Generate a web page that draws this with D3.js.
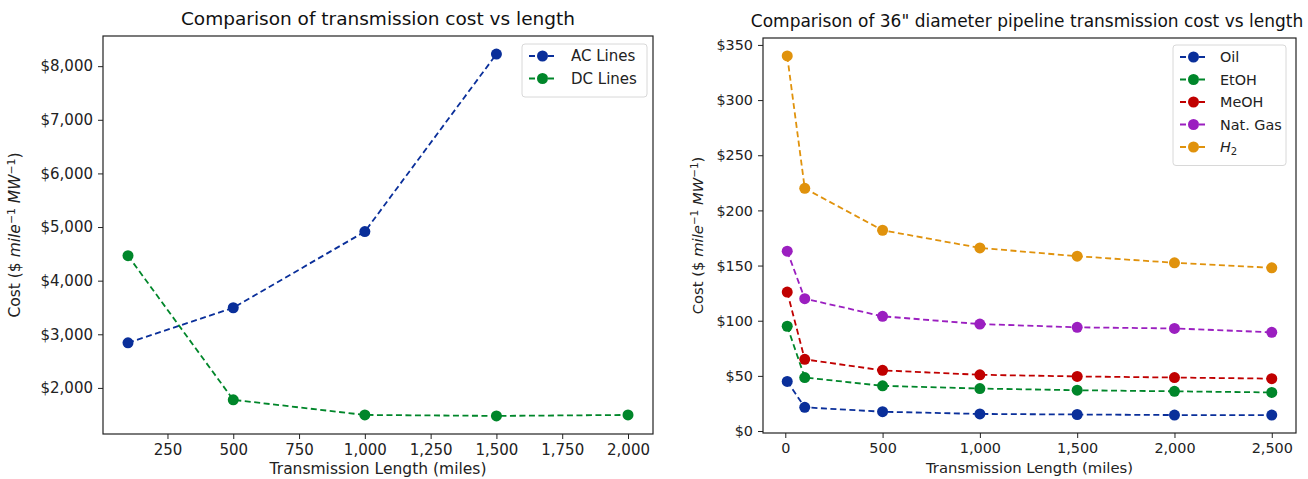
<!DOCTYPE html>
<html>
<head>
<meta charset="utf-8">
<script src="https://cdn.jsdelivr.net/npm/d3@7"></script>
<style>
  body { margin: 0; background: #fff; }
  svg { display: block; font-family: "DejaVu Sans", sans-serif; }
</style>
</head>
<body>
<div id="vis"></div>
<script>
// Dados
const acLength = [100, 500, 1000, 1500];
const acCost = [2840, 3495, 4915, 8225];
const dcLength = [100, 500, 1000, 1500, 2000];
const dcCost = [4465, 1778, 1496, 1478, 1496];
const leftXTicks = [250, 500, 750, 1000, 1250, 1500, 1750, 2000];
const leftYTicks = [2000, 3000, 4000, 5000, 6000, 7000, 8000];

const pipeLength = [10, 100, 500, 1000, 1500, 2000, 2500];
const oilCost = [45, 21.5, 17.5, 15.5, 15, 14.5, 14.5];
const etohCost = [95, 48.5, 41, 38.5, 37, 36, 35];
const meohCost = [126, 65, 55, 51, 49.5, 48.5, 47.5];
const gasCost = [163, 120, 104, 97, 94, 93, 89.5];
const h2Cost = [340, 220, 182, 166, 158.5, 152.5, 148];
const rightXTicks = [0, 500, 1000, 1500, 2000, 2500];
const rightYTicks = [0, 50, 100, 150, 200, 250, 300, 350];

// Cores
const cBlue = "#0a2f9a", cGreen = "#00862a", cRed = "#c00000", cPurple = "#9b1fc0", cOrange = "#e0920c";

const W = 1308, H = 479;
const svg = d3.select("#vis").append("svg").attr("width", W).attr("height", H);

const fmtComma = d3.format(",");

// Margens automáticas estilo matplotlib (5%)
function padDomain(vals) {
  const [a, b] = d3.extent(vals);
  const m = (b - a) * 0.05;
  return [a - m, b + m];
}

function drawPanel(opt) {
  const fs = opt.fonts;
  const g = svg.append("g");
  const x = d3.scaleLinear().domain(padDomain(opt.allX)).range([opt.left, opt.right]);
  const y = d3.scaleLinear().domain(padDomain(opt.allY)).range([opt.bottom, opt.top]);

  // Eixos
  const xAxis = d3.axisBottom(x).tickValues(opt.xTicks).tickFormat(fmtComma).tickSizeOuter(0).tickSize(5).tickPadding(5);
  const yAxis = d3.axisLeft(y).tickValues(opt.yTicks).tickFormat(d => "$" + fmtComma(d)).tickSizeOuter(0).tickSize(5).tickPadding(5);

  const gx = g.append("g").attr("transform", `translate(0,${opt.bottom})`).call(xAxis);
  const gy = g.append("g").attr("transform", `translate(${opt.left},0)`).call(yAxis);
  [gx, gy].forEach(a => {
    a.select(".domain").remove();
    a.selectAll("text").attr("font-size", fs.tick).attr("fill", "#222").attr("font-family", "DejaVu Sans");
    a.selectAll("line").attr("stroke", "#222").attr("stroke-width", 1);
  });

  // Moldura
  g.append("rect")
    .attr("x", opt.left).attr("y", opt.top)
    .attr("width", opt.right - opt.left).attr("height", opt.bottom - opt.top)
    .attr("fill", "none").attr("stroke", "#222").attr("stroke-width", 1.2);

  // Séries
  const line = d3.line().x(d => x(d[0])).y(d => y(d[1]));
  opt.series.forEach(s => {
    const pts = s.xs.map((v, i) => [v, s.ys[i]]);
    g.append("path").datum(pts)
      .attr("d", line).attr("fill", "none")
      .attr("stroke", s.color).attr("stroke-width", 1.8)
      .attr("stroke-dasharray", "6,3.5");
    g.selectAll(null).data(pts).enter().append("circle")
      .attr("cx", d => x(d[0])).attr("cy", d => y(d[1])).attr("r", 5.5)
      .attr("fill", s.color);
  });

  // Título
  g.append("text")
    .attr("x", opt.titleX).attr("y", opt.top - 11)
    .attr("text-anchor", "middle").attr("font-size", fs.title).attr("fill", "#111")
    .text(opt.title);

  // Rótulo X
  g.append("text")
    .attr("x", (opt.left + opt.right) / 2).attr("y", opt.bottom + 40)
    .attr("text-anchor", "middle").attr("font-size", fs.label).attr("fill", "#222")
    .text("Transmission Length (miles)");

  // Rótulo Y
  const sup = fs.label * 0.7;
  const yl = g.append("text")
    .attr("transform", `translate(${opt.yLabelX},${(opt.top + opt.bottom) / 2}) rotate(-90)`)
    .attr("text-anchor", "middle").attr("font-size", fs.label).attr("fill", "#222");
  yl.append("tspan").text("Cost ($ ");
  yl.append("tspan").attr("font-style", "italic").text("mile");
  yl.append("tspan").attr("font-size", sup).attr("dy", -5).text("\u22121");
  yl.append("tspan").attr("dy", 5).text(" ");
  yl.append("tspan").attr("font-style", "italic").text("MW");
  yl.append("tspan").attr("font-size", sup).attr("dy", -5).text("\u22121");
  yl.append("tspan").attr("dy", 5).text(")");

  // Legenda
  const lg = g.append("g");
  lg.append("rect")
    .attr("x", opt.legend.x).attr("y", opt.legend.y)
    .attr("width", opt.legend.w).attr("height", opt.series.length * 22.5 + 8)
    .attr("rx", 3).attr("fill", "#fff").attr("fill-opacity", 0.8)
    .attr("stroke", "#d8d8d8");
  opt.series.forEach((s, i) => {
    const cy = opt.legend.y + 12 + i * 22.5;
    const lx = opt.legend.x + 7;
    lg.append("line")
      .attr("x1", lx).attr("x2", lx + 27).attr("y1", cy).attr("y2", cy)
      .attr("stroke", s.color).attr("stroke-width", 1.8).attr("stroke-dasharray", "6,3.5");
    lg.append("circle").attr("cx", lx + 13.5).attr("cy", cy).attr("r", 5.5).attr("fill", s.color);
    const t = lg.append("text")
      .attr("x", lx + opt.legend.tx).attr("y", cy + 5)
      .attr("font-size", fs.tick).attr("fill", "#222");
    if (s.name === "H2") {
      t.append("tspan").attr("font-style", "italic").text("H");
      t.append("tspan").attr("font-size", fs.tick * 0.7).attr("dy", 3).text("2");
    } else {
      t.text(s.name);
    }
  });
}

drawPanel({
  left: 103, right: 653, top: 36, bottom: 434,
  allX: acLength.concat(dcLength), allY: acCost.concat(dcCost),
  xTicks: leftXTicks, yTicks: leftYTicks,
  fonts: { tick: 15, label: 15.5, title: 18.5 },
  title: "Comparison of transmission cost vs length", titleX: 378,
  yLabelX: 20,
  legend: { x: 522, y: 44, w: 125, tx: 42 },
  series: [
    { name: "AC Lines", xs: acLength, ys: acCost, color: cBlue },
    { name: "DC Lines", xs: dcLength, ys: dcCost, color: cGreen }
  ]
});

drawPanel({
  left: 763, right: 1296, top: 38, bottom: 433,
  allX: pipeLength, allY: oilCost.concat(etohCost, meohCost, gasCost, h2Cost),
  xTicks: rightXTicks, yTicks: rightYTicks,
  fonts: { tick: 14.4, label: 14.8, title: 17 },
  title: "Comparison of 36\" diameter pipeline transmission cost vs length", titleX: 1027,
  yLabelX: 703,
  legend: { x: 1173, y: 45, w: 113, tx: 40 },
  series: [
    { name: "Oil", xs: pipeLength, ys: oilCost, color: cBlue },
    { name: "EtOH", xs: pipeLength, ys: etohCost, color: cGreen },
    { name: "MeOH", xs: pipeLength, ys: meohCost, color: cRed },
    { name: "Nat. Gas", xs: pipeLength, ys: gasCost, color: cPurple },
    { name: "H2", xs: pipeLength, ys: h2Cost, color: cOrange }
  ]
});
</script>
</body>
</html>
